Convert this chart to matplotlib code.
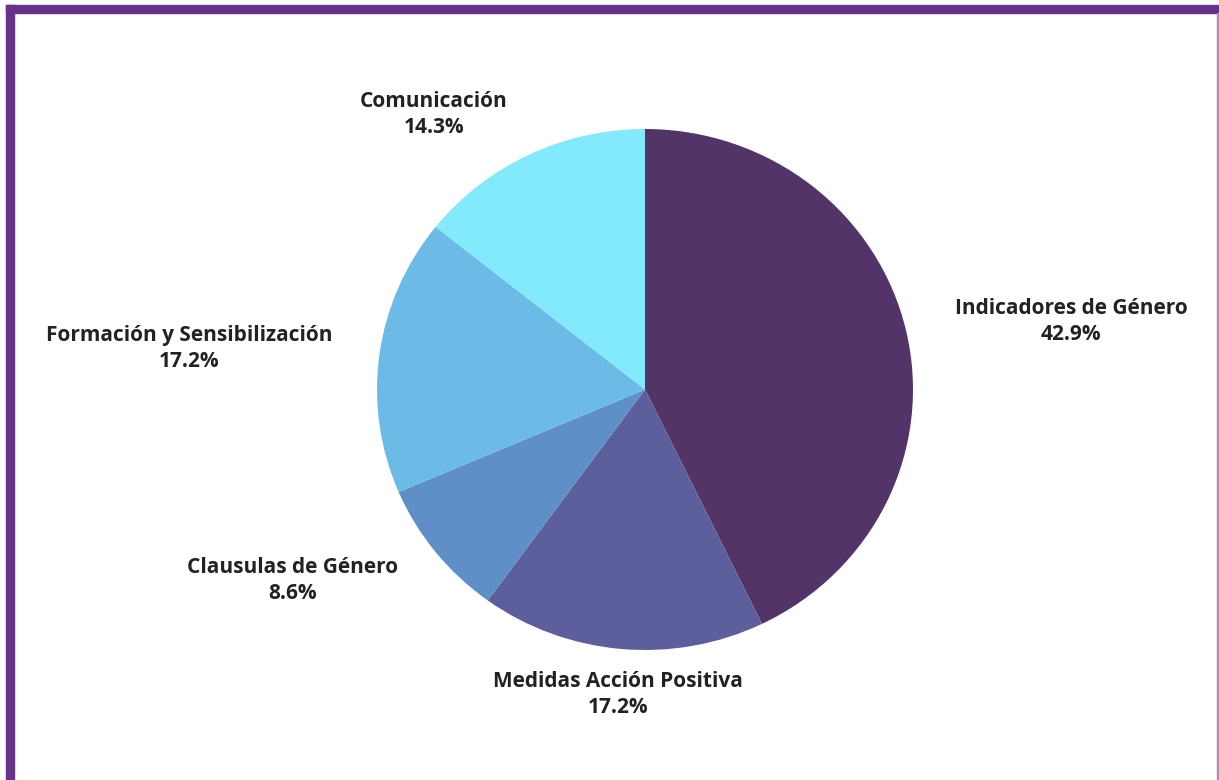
import numpy as np
import matplotlib.pyplot as plt
from matplotlib.patches import Rectangle

# Data
categories = ['Indicadores de Género', 'Medidas Acción Positiva', 'Clausulas de Género',
              'Formación y Sensibilización', 'Comunicación']
shares = [42.9, 17.2, 8.6, 17.2, 14.3]
colors = ['#523469', '#5c5f9c', '#5f8fc7', '#6bbbe6', '#83e9fd']

# label centres in pixels (x, y of first line)
label_px = [(1071, 308), (618, 681), (293, 567), (189, 335), (434, 101)]

W, H = 1219, 780
cx, cy, rx, ry = 645, 389.5, 268, 260.5

fig = plt.figure(figsize=(W / 100, H / 100), dpi=100)
plt.rcParams['font.family'] = ['Open Sans', 'DejaVu Sans']

# the reference pie is slightly squashed vertically
ax = fig.add_axes([(cx - rx) / W, (H - cy - ry) / H, 2 * rx / W, 2 * ry / H])
ax.pie(shares, colors=colors, startangle=90, counterclock=False, radius=1,
       wedgeprops=dict(linewidth=0))
ax.set_xlim(-1, 1)
ax.set_ylim(-1, 1)
ax.set_aspect('auto')
ax.axis('off')

for name, val, (px, py) in zip(categories, shares, label_px):
    fig.text(px / W, 1 - (py + 13.5) / H, f'{name}\n{val}%', ha='center', va='center',
             fontsize=15, fontweight='bold', color='#222222', linespacing=1.3)

# purple frame
fig.patches.append(Rectangle((6 / W, 0), 8 / W, 1 - 5 / H, transform=fig.transFigure,
                             color='#66338a', zorder=5))
fig.patches.append(Rectangle((6 / W, 1 - 13 / H), 1 - 6 / W, 8 / H, transform=fig.transFigure,
                             color='#66338a', zorder=5))
fig.patches.append(Rectangle((1217 / W, 0), 2 / W, 1 - 13 / H, transform=fig.transFigure,
                             color='#a98bc0', zorder=5))

fig.savefig('out.png', dpi=100)
